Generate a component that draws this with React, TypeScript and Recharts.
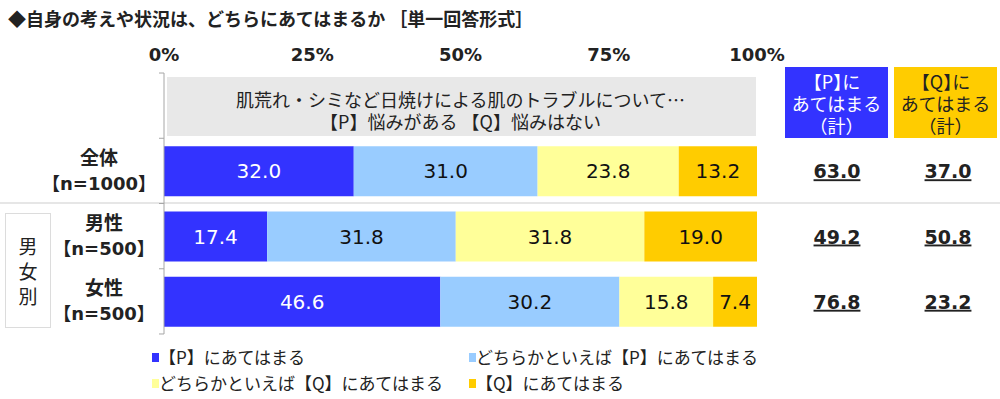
import React from 'react';
import { BarChart, Bar, XAxis, YAxis, LabelList, Legend } from 'recharts';

const categories = ['', '全体', '男性', '女性'];
const sampleSizes = ['', '【n=1000】', '【n=500】', '【n=500】'];
const pYes = [null, 32.0, 17.4, 46.6];
const pLean = [null, 31.0, 31.8, 30.2];
const qLean = [null, 23.8, 31.8, 15.8];
const qYes = [null, 13.2, 19.0, 7.4];
const pTotal = [null, 63.0, 49.2, 76.8];
const qTotal = [null, 37.0, 50.8, 23.2];
const noteRow = [100, null, null, null];
const xTicks = [0, 25, 50, 75, 100];
const seriesNames = [
  '【P】にあてはまる',
  'どちらかといえば【P】にあてはまる',
  'どちらかといえば【Q】にあてはまる',
  '【Q】にあてはまる',
];
const noteLines = ['肌荒れ・シミなど日焼けによる肌のトラブルについて…', '【P】悩みがある 【Q】悩みはない'];

const FONT = "'Noto Sans CJK JP', 'Noto Sans', sans-serif";
const NUM_FONT = "'DejaVu Sans', 'Noto Sans CJK JP', sans-serif";
const COLORS = ['#3333ff', '#99ccff', '#ffff99', '#ffcc00'];

const data = categories.map((name, i) => ({
  name,
  note: noteRow[i],
  p: pYes[i],
  pl: pLean[i],
  ql: qLean[i],
  q: qYes[i],
  pt: pTotal[i],
  qt: qTotal[i],
}));

const fmt = (v: any) => (typeof v === 'number' ? v.toFixed(1) : '');

// 【】を半角幅で詰める
const HALT = { fontFeatureSettings: '"halt"' };
const tightSvg = (s: string) =>
  s.split(/([【】])/).filter(Boolean).map((part, k) =>
    /[【】]/.test(part) ? (
      <tspan key={k} style={HALT}>
        {part}
      </tspan>
    ) : (
      part
    )
  );
const tightHtml = (s: string) =>
  s.split(/([【】])/).filter(Boolean).map((part, k) =>
    /[【】]/.test(part) ? (
      <span key={k} style={HALT}>
        {part}
      </span>
    ) : (
      part
    )
  );

// 設問文の灰色ボックス
const NoteShape = (props: any) => {
  const { x, y, width, height } = props;
  if (!width || width <= 0) return null;
  const cx = x + width / 2;
  return (
    <g>
      <rect x={x + 3} y={y - 4} width={width - 4} height={height + 9} fill="#e8e8e8" />
      <text x={cx} y={y + 26} textAnchor="middle" fontSize={18} fill="#222" fontFamily={FONT}>
        {noteLines[0]}
      </text>
      <text x={cx} y={y + 48} textAnchor="middle" fontSize={18} fill="#222" fontFamily={FONT}>
        {noteLines[1]}
      </text>
    </g>
  );
};

// 縦軸ラベル(2行)
const CategoryTick = (props: any) => {
  const { x, y, payload, index } = props;
  const i = payload?.index ?? index;
  const half = 32.6;
  const cx = i === 1 ? x - 65 : x - 60;
  return (
    <g>
      <line x1={x - 5} y1={y - half} x2={x} y2={y - half} stroke="#a6a6a6" />
      {i === categories.length - 1 && <line x1={x - 5} y1={y + half} x2={x} y2={y + half} stroke="#a6a6a6" />}
      {categories[i] && (
        <>
          <text x={cx} y={y - 6} textAnchor="middle" fontSize={19} fontWeight="bold" fill="#222" fontFamily={FONT}>
            {categories[i]}
          </text>
          <text x={cx} y={y + 19} textAnchor="middle" fontSize={18} fontWeight="bold" fill="#222" fontFamily={NUM_FONT}>
            {tightSvg(sampleSizes[i])}
          </text>
        </>
      )}
    </g>
  );
};

// 右側の合計値
const totalLabel = (cx: number) => (props: any) => {
  const vb = props.viewBox || props;
  const { y, height } = vb;
  if (typeof props.value !== 'number') return null;
  return (
    <text
      x={cx}
      y={y + height / 2 + 7}
      textAnchor="middle"
      textDecoration="underline"
      fontFamily={NUM_FONT}
      fontSize={19}
      fontWeight="bold"
      fill="#222"
    >
      {fmt(props.value)}
    </text>
  );
};

const renderLegend = (props: any) => {
  const payload = props.payload || [];
  const items = seriesNames.map((n) => payload.find((p: any) => p.value === n));
  return (
    <div style={{ position: 'relative', width: 700, height: 52, fontFamily: FONT, fontSize: 17, color: '#222' }}>
      {items.map((it: any, k: number) =>
        it ? (
          <div
            key={k}
            style={{
              position: 'absolute',
              left: k % 2 === 0 ? 0 : 317,
              top: Math.floor(k / 2) * 26,
              display: 'flex',
              alignItems: 'center',
              whiteSpace: 'nowrap',
              lineHeight: '24px',
            }}
          >
            <span style={{ display: 'inline-block', width: 7, height: 9, background: it.color, marginRight: 0 }} />
            {it.value}
          </div>
        ) : null
      )}
    </div>
  );
};

const boxStyle: React.CSSProperties = {
  position: 'absolute',
  top: 67,
  width: 103,
  height: 71,
  fontFamily: FONT,
  fontSize: 18,
  lineHeight: '22px',
  textAlign: 'center',
  display: 'flex',
  flexDirection: 'column',
  justifyContent: 'center',
};

export default function App() {
  return (
    <div style={{ position: 'absolute', left: 0, top: 0, width: 1000, height: 399, background: '#fff', overflow: 'hidden' }}>
      <div
        style={{
          position: 'absolute',
          left: 8,
          top: 5,
          fontFamily: FONT,
          fontSize: 18,
          fontWeight: 'bold',
          color: '#222',
          whiteSpace: 'nowrap',
        }}
      >
        ◆自身の考えや状況は、どちらにあてはまるか ［単一回答形式］
      </div>
      <div style={{ position: 'absolute', left: 0, top: 202, width: 1000, height: 2, background: '#e6e6e6' }} />
      <div
        style={{
          position: 'absolute',
          left: 5,
          top: 213,
          width: 44,
          height: 113,
          border: '1px solid #dcdcdc',
          fontFamily: FONT,
          fontSize: 19,
          color: '#222',
          display: 'flex',
          flexDirection: 'column',
          alignItems: 'center',
          justifyContent: 'center',
          lineHeight: '25px',
        }}
      >
        <span>男</span>
        <span>女</span>
        <span>別</span>
      </div>
      <div style={{ ...boxStyle, left: 785, background: COLORS[0], color: '#fff' }}>
        <span>{tightHtml('【P】に')}</span>
        <span>あてはまる</span>
        <span>（計）</span>
      </div>
      <div style={{ ...boxStyle, left: 894, background: COLORS[3], color: '#222' }}>
        <span>{tightHtml('【Q】に')}</span>
        <span>あてはまる</span>
        <span>（計）</span>
      </div>
      <div style={{ position: 'absolute', left: 0, top: 0 }}>
        <BarChart
          width={1000}
          height={399}
          data={data}
          layout="vertical"
          margin={{ top: 33, right: 243, bottom: 65, left: 0 }}
        >
          <XAxis
            type="number"
            orientation="top"
            domain={[0, 100]}
            ticks={xTicks}
            tickFormatter={(v) => `${v}%`}
            axisLine={false}
            tickLine={false}
            tickSize={0}
            tickMargin={12}
            height={40}
            tick={{ fontSize: 18, fontWeight: 'bold', fill: '#222', fontFamily: NUM_FONT }}
            interval={0}
          />
          <YAxis
            type="category"
            dataKey="name"
            width={164}
            tickLine={false}
            tickSize={0}
            tickMargin={0}
            axisLine={{ stroke: '#a6a6a6' }}
            tick={<CategoryTick />}
            interval={0}
          />
          <Legend
            layout="horizontal"
            verticalAlign="middle"
            align="center"
            content={renderLegend}
            wrapperStyle={{ left: 152, top: 345, width: 700 }}
          />
          <Bar dataKey="note" stackId="s" barSize={50} legendType="none" shape={<NoteShape />} isAnimationActive={false} />
          <Bar dataKey="p" name={seriesNames[0]} stackId="s" barSize={50} fill={COLORS[0]} isAnimationActive={false}>
            <LabelList dataKey="p" position="center" formatter={fmt} fill="#fff" fontSize={20} fontFamily={NUM_FONT} />
          </Bar>
          <Bar dataKey="pl" name={seriesNames[1]} stackId="s" barSize={50} fill={COLORS[1]} isAnimationActive={false}>
            <LabelList dataKey="pl" position="center" formatter={fmt} fill="#111" fontSize={20} fontFamily={NUM_FONT} />
          </Bar>
          <Bar dataKey="ql" name={seriesNames[2]} stackId="s" barSize={50} fill={COLORS[2]} isAnimationActive={false}>
            <LabelList dataKey="ql" position="center" formatter={fmt} fill="#111" fontSize={20} fontFamily={NUM_FONT} />
          </Bar>
          <Bar dataKey="q" name={seriesNames[3]} stackId="s" barSize={50} fill={COLORS[3]} isAnimationActive={false}>
            <LabelList dataKey="q" position="center" formatter={fmt} fill="#111" fontSize={20} fontFamily={NUM_FONT} />
            <LabelList dataKey="pt" content={totalLabel(837)} />
            <LabelList dataKey="qt" content={totalLabel(948)} />
          </Bar>
        </BarChart>
      </div>
    </div>
  );
}
